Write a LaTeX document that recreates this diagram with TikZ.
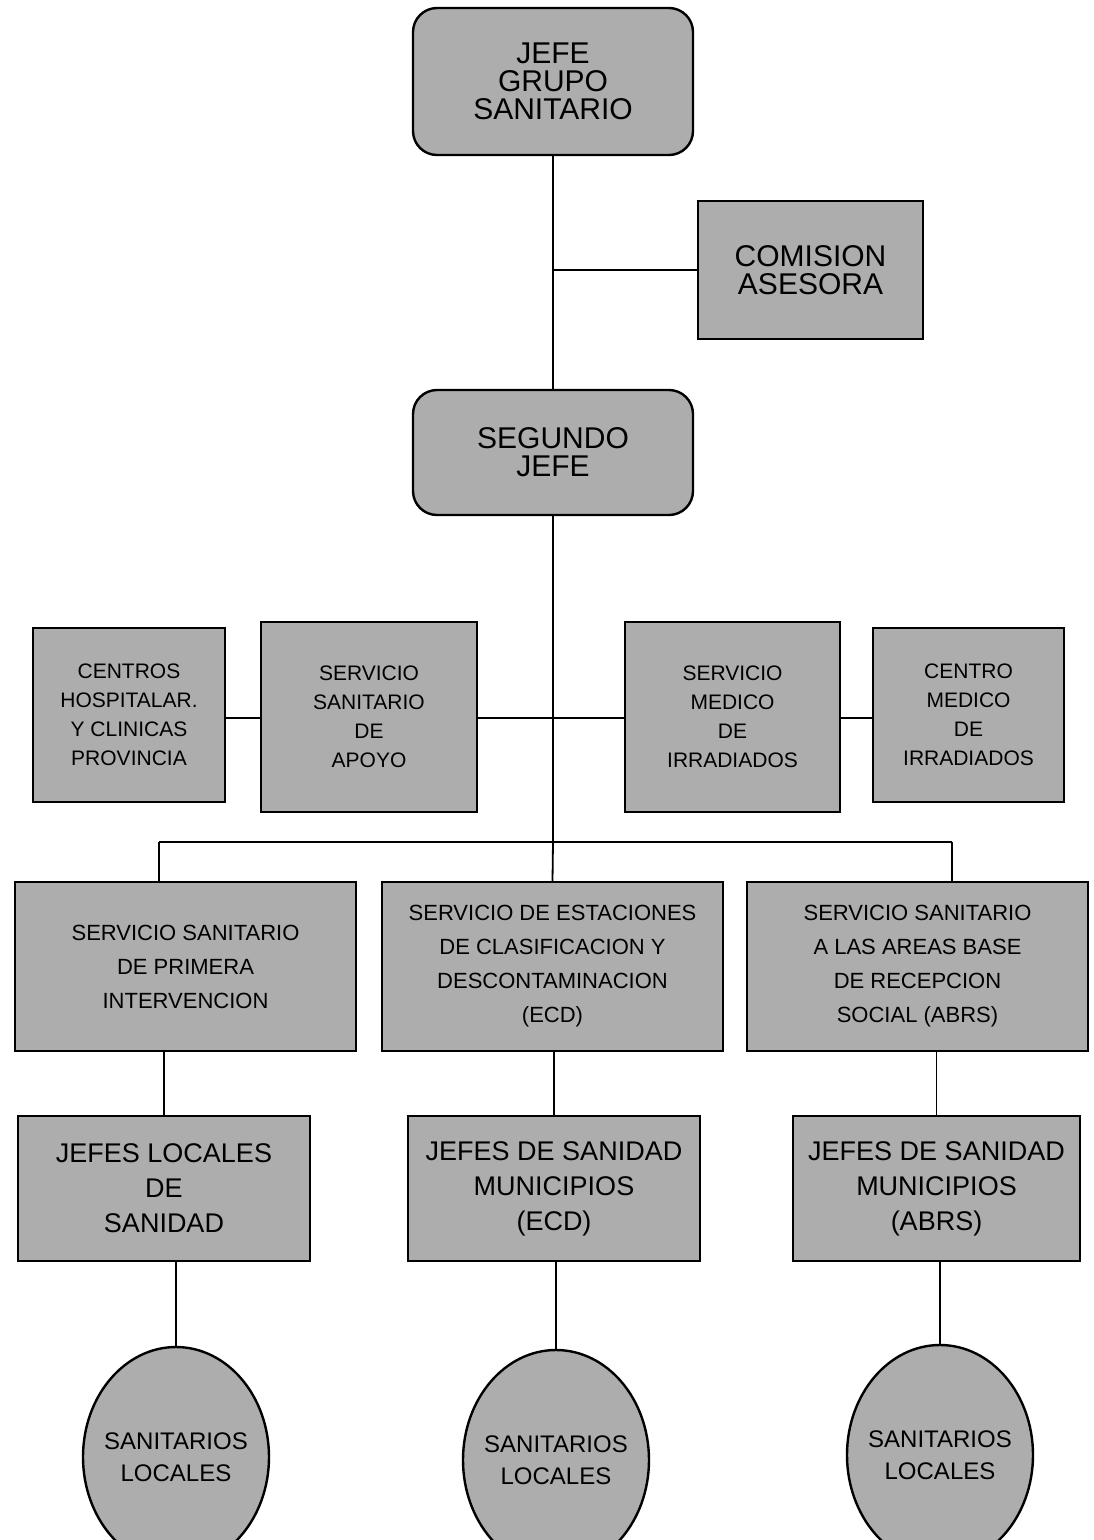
\documentclass[tikz,border=0pt]{standalone}
\usepackage{fontspec}
\setmainfont{Liberation Sans}
\usetikzlibrary{shapes.geometric}
\definecolor{screen}{gray}{0.68}
\tikzset{
  boxbase/.style={draw=black, line width=2.4pt, fill=screen, inner sep=0pt, align=center, text=black},
  roundbox/.style={boxbase, rounded corners=24pt, font=\fontsize{30}{28}\selectfont},
  bigbox/.style={boxbase, font=\fontsize{30}{28}\selectfont},
  sidebox/.style={boxbase, font=\fontsize{21}{29}\selectfont},
  midbox/.style={boxbase, font=\fontsize{22}{34}\selectfont},
  lowbox/.style={boxbase, font=\fontsize{27}{35}\selectfont},
  bubble/.style={boxbase, ellipse, minimum width=186pt, minimum height=220pt},
  bubbletext/.style={align=center, inner sep=0pt, font=\fontsize{24}{32}\selectfont, text=black},
  link/.style={draw=black, line width=1.8pt}
}
\begin{document}
\begin{tikzpicture}[x=1pt,y=-1pt]
\useasboundingbox (0,0) rectangle (1094,1540);
\clip (0,0) rectangle (1094,1540);
\fill[white] (0,0) rectangle (1094,1540);

% level 1
\node[roundbox, minimum width=280pt, minimum height=147pt] (jefe) at (553,81.5) {JEFE\\GRUPO\\SANITARIO};
\node[bigbox, minimum width=225pt, minimum height=138pt] (com) at (810.5,270) {COMISION\\ASESORA};
\node[roundbox, minimum width=280pt, minimum height=125pt] (seg) at (553,452.5) {SEGUNDO\\JEFE};

% level 2
\node[sidebox, minimum width=192pt, minimum height=174pt] (cen) at (129,715) {CENTROS\\HOSPITALAR.\\Y CLINICAS\\PROVINCIA};
\node[sidebox, minimum width=216pt, minimum height=190pt] (apo) at (369,717) {SERVICIO\\SANITARIO\\DE\\APOYO};
\node[sidebox, minimum width=215pt, minimum height=190pt] (med) at (732.5,717) {SERVICIO\\MEDICO\\DE\\IRRADIADOS};
\node[sidebox, minimum width=191pt, minimum height=174pt] (cmi) at (968.5,715) {CENTRO\\MEDICO\\DE\\IRRADIADOS};

% level 3
\node[midbox, minimum width=341pt, minimum height=169pt] (spi) at (185.5,966.5) {SERVICIO SANITARIO\\DE PRIMERA\\INTERVENCION};
\node[midbox, minimum width=341pt, minimum height=169pt] (ecd) at (552.5,966.5) {SERVICIO DE ESTACIONES\\DE CLASIFICACION Y\\DESCONTAMINACION\\(ECD)};
\node[midbox, minimum width=341pt, minimum height=169pt] (abr) at (917.5,966.5) {SERVICIO SANITARIO\\A LAS AREAS BASE\\DE RECEPCION\\SOCIAL (ABRS)};

% level 4
\node[lowbox, minimum width=292pt, minimum height=145pt] (jl) at (164,1188.5) {JEFES LOCALES\\DE\\SANIDAD};
\node[lowbox, minimum width=292pt, minimum height=145pt] (je) at (554,1188.5) {JEFES DE SANIDAD\\MUNICIPIOS\\(ECD)};
\node[lowbox, minimum width=287pt, minimum height=145pt] (ja) at (936.5,1188.5) {JEFES DE SANIDAD\\MUNICIPIOS\\(ABRS)};

% level 5
\node[bubble] (s1) at (176,1457) {};
\node[bubble] (s2) at (556,1460) {};
\node[bubble] (s3) at (940,1455) {};
\node[bubbletext] (t1) at (s1.center) {SANITARIOS\\LOCALES};
\node[bubbletext] (t2) at (s2.center) {SANITARIOS\\LOCALES};
\node[bubbletext] (t3) at (s3.center) {SANITARIOS\\LOCALES};

% connectors
\coordinate (bus) at (553,842);
\coordinate (busL) at (159,842);
\coordinate (busR) at (952,842);
\coordinate (row2) at (553,718);

\draw[link] (jefe.south) -- (seg.north);
\draw[link] (com.west) -- (com.west -| jefe.south);
\draw[link] (seg.south) -- (bus) -- (ecd.north);
\draw[link] (apo.east |- row2) -- (row2) -- (med.west |- row2);
\draw[link] (cen.east |- row2) -- (apo.west |- row2);
\draw[link] (med.east |- row2) -- (cmi.west |- row2);
\draw[link] (busL) -- (busR);
\draw[link] (busL) -- (busL |- spi.north);
\draw[link] (busR) -- (busR |- abr.north);

\draw[link] (jl.north) -- (jl.north |- spi.south);
\draw[link] (je.north) -- (je.north |- ecd.south);
\draw[link] (ja.north) -- (ja.north |- abr.south);

\draw[link] (s1.north) -- (s1.north |- jl.south);
\draw[link] (s2.north) -- (s2.north |- je.south);
\draw[link] (s3.north) -- (s3.north |- ja.south);
\end{tikzpicture}
\end{document}
